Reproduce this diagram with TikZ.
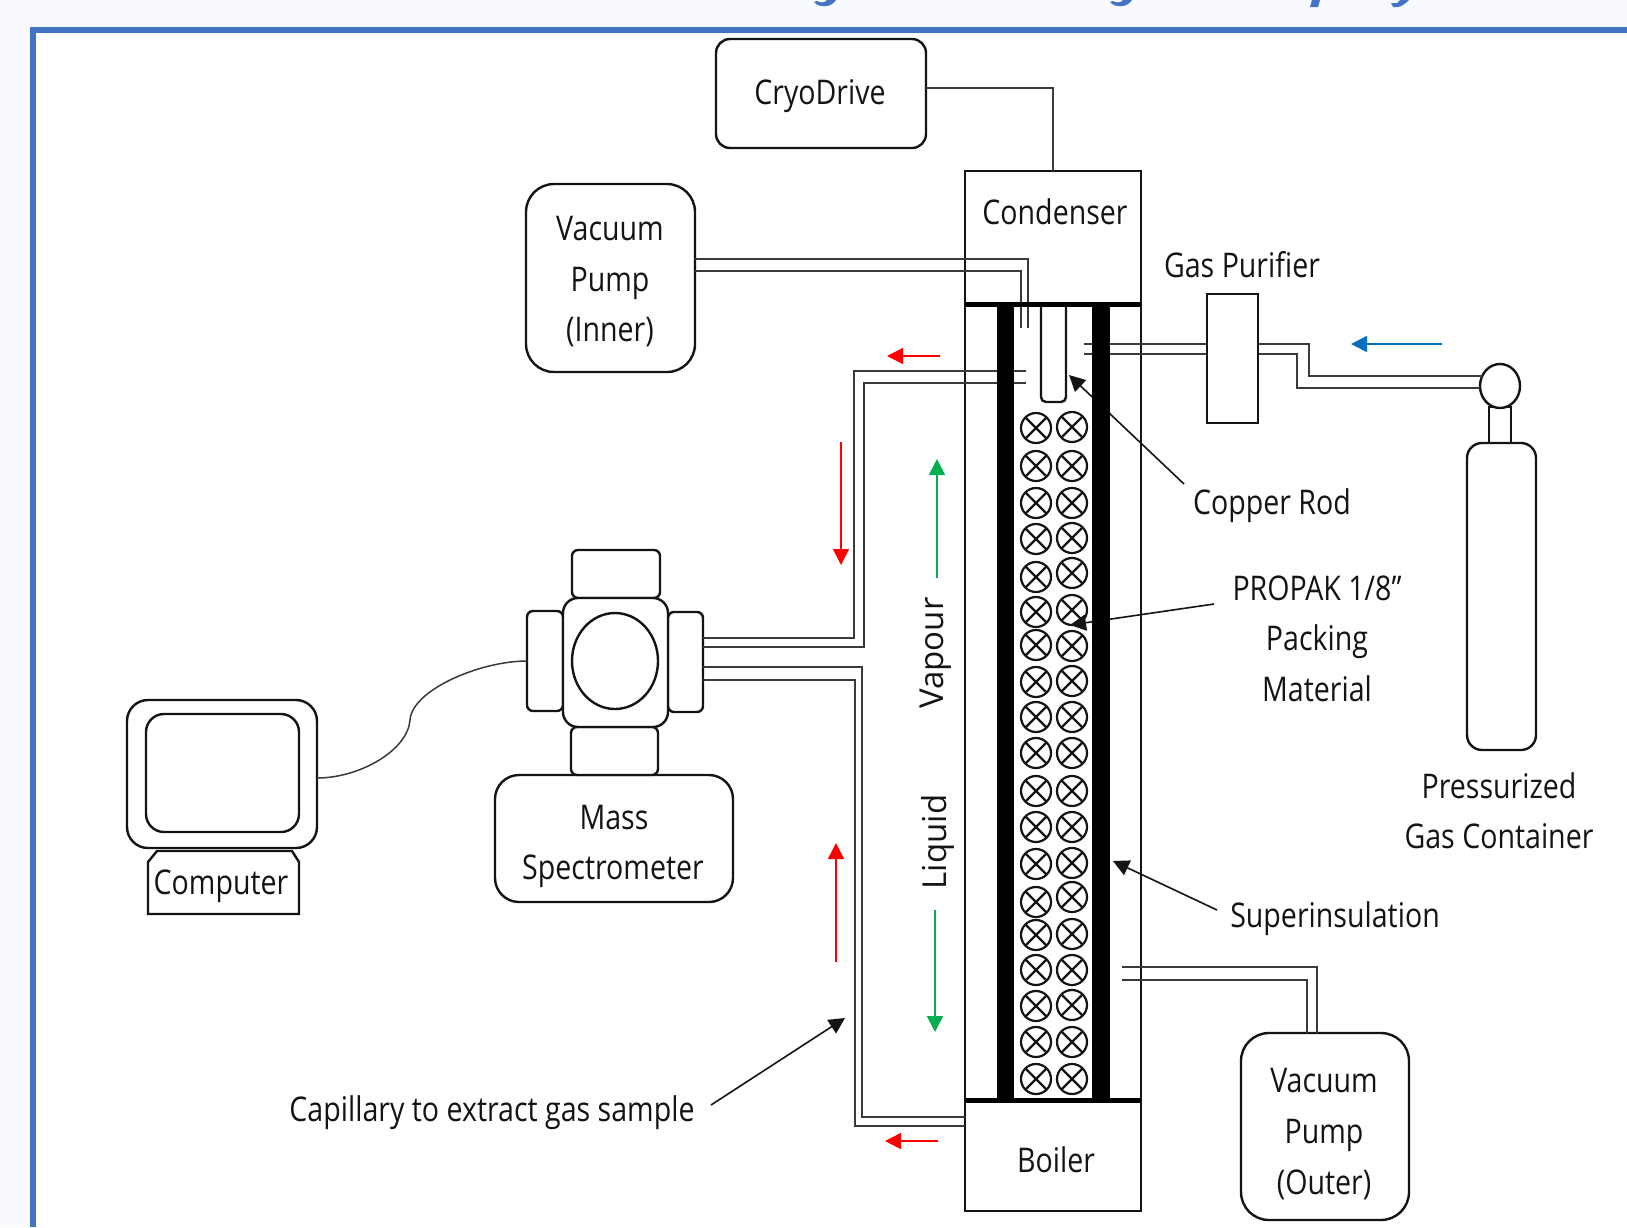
\documentclass[tikz,border=0pt]{standalone}
\usepackage{fontspec}
\setmainfont[FakeStretch=0.84]{Open Sans}
\newfontfamily\widefont{Open Sans}
\usetikzlibrary{arrows.meta}
\definecolor{pagebg}{HTML}{F8FAFD}
\definecolor{frameblue}{HTML}{4472C4}
\definecolor{arrowred}{HTML}{FF0000}
\definecolor{arrowgreen}{HTML}{00B050}
\definecolor{arrowblue}{HTML}{0070C0}
\definecolor{ink}{HTML}{141414}
\definecolor{tubegrey}{HTML}{3A3A3A}
\tikzset{
  x=1pt,y=-1pt,
  shapebox/.style={draw=ink,line width=2.4pt,fill=white,inner sep=0pt,minimum width=#1},
  rbox/.style={shapebox=#1,rounded corners=14pt},
  sbox/.style={shapebox=#1},
  softbox/.style={shapebox=#1,rounded corners=6pt},
  label/.style={font=\fontsize{34}{34}\selectfont,text=ink,inner sep=0pt},
  sidelabel/.style={font=\widefont\fontsize{33}{33}\selectfont,text=ink,inner sep=0pt,rotate=90},
  tube/.style={draw=tubegrey,line width=1.7pt},
  flow/.style={line width=1.6pt,-{Triangle[length=16pt,width=16pt]}},
  callout/.style={draw=ink,line width=1.6pt,-{Triangle[length=16pt,width=16pt]}},
  bar/.style={fill=black,draw=none},
}
\begin{document}
\begin{tikzpicture}
\useasboundingbox (0,0) rectangle (1627,1227);
% page and frame
\fill[pagebg] (0,0) rectangle (1627,1227);
\fill[white] (33,30) rectangle (1627,1227);
\fill[frameblue] (30,27) rectangle (1627,33);
\fill[frameblue] (30,27) rectangle (36,1227);
% clipped descenders of the heading
\fill[frameblue] (814,2) .. controls (819,8) and (831,8) .. (836,0) -- (827,0) .. controls (825,3) and (820,3) .. (817,1) -- cycle;
\fill[frameblue] (1110,2) .. controls (1115,8) and (1127,8) .. (1132,0) -- (1123,0) .. controls (1121,3) and (1116,3) .. (1113,1) -- cycle;
\fill[frameblue] (1312,0) -- (1320,0) -- (1318,7) -- (1310,7) -- cycle;
\fill[frameblue] (1391,3) -- (1393,7) .. controls (1399,8) and (1403,6) .. (1409,0) -- (1400,0) -- (1397,3) -- cycle;

% apparatus boxes
\node[rbox=210pt,minimum height=109pt] (cryo) at (821,93.5) {};
\node[label] (cryotxt) at (820,96) {CryoDrive};
\node[sbox=176pt,minimum height=133pt] (condenser) at (1053,237.5) {};
\node[label] (condtxt) at (1055,212) {Condenser};
\node[sbox=176pt,minimum height=796pt] (column) at (1053,702) {};
\node[sbox=176pt,minimum height=111pt] (boiler) at (1053,1155.5) {};
\node[label] (boiltxt) at (1056,1160) {Boiler};
\node[shapebox=169pt,minimum height=188pt,rounded corners=28pt] (pumpin) at (610.5,278) {};
\node[label] (pin1) at (610,229) {Vacuum};
\node[label] (pin2) at (610,283) {Pump};
\node[label] (pin3) at (610,332) {(Inner)};
\node[shapebox=168pt,minimum height=187pt,rounded corners=28pt] (pumpout) at (1325,1126.5) {};
\node[label] (pout1) at (1324,1081) {Vacuum};
\node[label] (pout2) at (1324,1135) {Pump};
\node[label] (pout3) at (1324,1185) {(Outer)};
\node[sbox=51pt,minimum height=129pt] (purifier) at (1232.5,358.5) {};
\node[label] (purtxt) at (1242,265) {Gas Purifier};

% gas cylinder
\node[draw=ink,line width=2.4pt,fill=white,minimum width=22pt,minimum height=36pt,inner sep=0pt] (neck) at (1500,425) {};
\node[shapebox=69pt,minimum height=307pt,rounded corners=15pt] (cylinder) at (1501.5,596.5) {};
\draw[ink,line width=2.4pt,fill=white] (1500,386) ellipse [x radius=20pt,y radius=22pt];
\coordinate (ballhi) at (1483,376);
\coordinate (balllo) at (1480,388);
\node[label] (press1) at (1499,786) {Pressurized};
\node[label] (press2) at (1499,836) {Gas Container};

% mass spectrometer
\node[shapebox=238pt,minimum height=127pt,rounded corners=24pt] (ms) at (614,838.5) {};
\node[label] (ms1) at (614,818) {Mass};
\node[label] (ms2) at (613,871) {Spectrometer};
\node[softbox=88pt,minimum height=48pt] (mstop) at (616,574) {};
\node[softbox=87pt,minimum height=48pt] (msbot) at (614.5,751) {};
\node[softbox=36pt,minimum height=100pt] (msleft) at (545,661) {};
\node[softbox=35pt,minimum height=100pt] (msright) at (685.5,662) {};
\node[shapebox=105pt,minimum height=129pt,rounded corners=15pt] (mscore) at (615.5,662.5) {};
\draw[ink,line width=2.4pt] (615,661) ellipse [x radius=43pt,y radius=48pt];

% computer
\node[shapebox=190pt,minimum height=148pt,rounded corners=21pt] (monitor) at (222,774) {};
\node[shapebox=153pt,minimum height=118pt,rounded corners=18pt] (screen) at (222.5,773) {};
\draw[ink,line width=2.4pt,fill=white] (148,914) -- (148,862) -- (157,851) -- (292,851) -- (299,862) -- (299,914) -- cycle;
\node[label] (comptxt) at (221,886) {Computer};
\coordinate (monout) at (317,778);
\coordinate (msin) at (527,661);
\draw[tubegrey,line width=1.5pt] (monout) .. controls (360,778) and (408,750) .. (410,720) .. controls (412,690) and (480,661) .. (msin);

% CryoDrive link
\coordinate (cryoout) at (926,88);
\coordinate (condin) at (1053,171);
\draw[tubegrey,line width=1.5pt] (cryoout) -| (condin);

% vacuum (inner) tube
\coordinate (pa) at (695,259);
\coordinate (pb) at (695,271);
\coordinate (pc) at (1028,328);
\coordinate (pd) at (1021,328);
\draw[tube] (pa) -| (pc);
\draw[tube] (pb) -| (pd);

% sample tubes
\coordinate (sa) at (1026,371);
\coordinate (sb) at (1026,383);
\coordinate (sc) at (703,647);
\coordinate (sd) at (703,638);
\draw[tube] (sa) -- (854,371) |- (sd);
\draw[tube] (sb) -- (864,383) |- (sc);
\coordinate (ta) at (703,667);
\coordinate (tb) at (703,680);
\coordinate (tc) at (965,1117);
\coordinate (td) at (965,1126);
\draw[tube] (ta) -- (862,667) |- (tc);
\draw[tube] (tb) -- (855,680) |- (td);

% gas feed tubes
\coordinate (ga) at (1084,344);
\coordinate (gb) at (1084,354);
\draw[tube] (ga) -- (purifier.west |- ga);
\draw[tube] (gb) -- (purifier.west |- gb);
\draw[tube] (purifier.east |- ga) -- (1309,344) -- (1309,376) -- (ballhi);
\draw[tube] (purifier.east |- gb) -- (1297,354) -- (1297,388) -- (balllo);

% vacuum (outer) tube
\coordinate (oa) at (1122,967);
\coordinate (ob) at (1122,980);
\coordinate (oc) at (1317,1033);
\coordinate (od) at (1307,1033);
\draw[tube] (oa) -| (oc);
\draw[tube] (ob) -| (od);

% callouts
\coordinate (cuA) at (1184,484);
\coordinate (cuB) at (1069,375);
\draw[callout] (cuA) -- (cuB);
\coordinate (ppA) at (1214,604);
\coordinate (ppB) at (1070,625);
\draw[callout] (ppA) -- (ppB);
\coordinate (siA) at (1217,910);
\coordinate (siB) at (1113,861);
\draw[callout] (siA) -- (siB);
\coordinate (caA) at (711,1105);
\coordinate (caB) at (845,1018);
\draw[callout] (caA) -- (caB);

% column internals
\fill[bar] (997,304) rectangle (1014,1100);
\fill[bar] (1092,304) rectangle (1110,1100);
\fill[black] (965,301.5) rectangle (1141,306.5);
\fill[black] (965,1097.5) rectangle (1141,1102.5);
\draw[ink,line width=2.4pt,rounded corners=5pt] (1041,306) -- (1041,402) -- (1066,402) -- (1066,306);

% packing
\foreach \ya/\yb in {428/427,466/466,503/503,539/538,577/573,612/610,645/646,682/681,717/717,753/753,791/791,827/827,864/863,902/897,935/934,970/970,1006/1005,1042/1042,1079/1079}{
  \foreach \cx/\cy in {1036/\ya,1072/\yb}{
    \draw[ink,line width=2.2pt] (\cx,\cy) circle [radius=15pt];
    \draw[ink,line width=2.2pt] (\cx-10.6,\cy-10.6) -- (\cx+10.6,\cy+10.6) (\cx-10.6,\cy+10.6) -- (\cx+10.6,\cy-10.6);
  }
}

% flow arrows
\coordinate (b1) at (1442,344);
\coordinate (b2) at (1351,344);
\draw[flow,arrowblue] (b1) -- (b2);
\coordinate (r1) at (940,356);
\coordinate (r2) at (887,356);
\draw[flow,arrowred] (r1) -- (r2);
\coordinate (r3) at (841,442);
\coordinate (r4) at (841,565);
\draw[flow,arrowred] (r3) -- (r4);
\coordinate (r5) at (836,962);
\coordinate (r6) at (836,843);
\draw[flow,arrowred] (r5) -- (r6);
\coordinate (r7) at (938,1141);
\coordinate (r8) at (885,1141);
\draw[flow,arrowred] (r7) -- (r8);
\coordinate (g1) at (937,578);
\coordinate (g2) at (937,459);
\draw[flow,arrowgreen] (g1) -- (g2);
\coordinate (g3) at (935,910);
\coordinate (g4) at (935,1032);
\draw[flow,arrowgreen] (g3) -- (g4);

% free labels
\node[sidelabel] (vapour) at (936,653) {Vapour};
\node[sidelabel] (liquid) at (938,842) {Liquid};
\node[label] (cutxt) at (1272,506) {Copper Rod};
\node[label] (pp1) at (1317,588) {PROPAK 1/8”};
\node[label] (pp2) at (1317,642) {Packing};
\node[label] (pp3) at (1317,689) {Material};
\node[label] (sitxt) at (1335,919) {Superinsulation};
\node[label] (catxt) at (492,1113) {Capillary to extract gas sample};
\end{tikzpicture}
\end{document}
